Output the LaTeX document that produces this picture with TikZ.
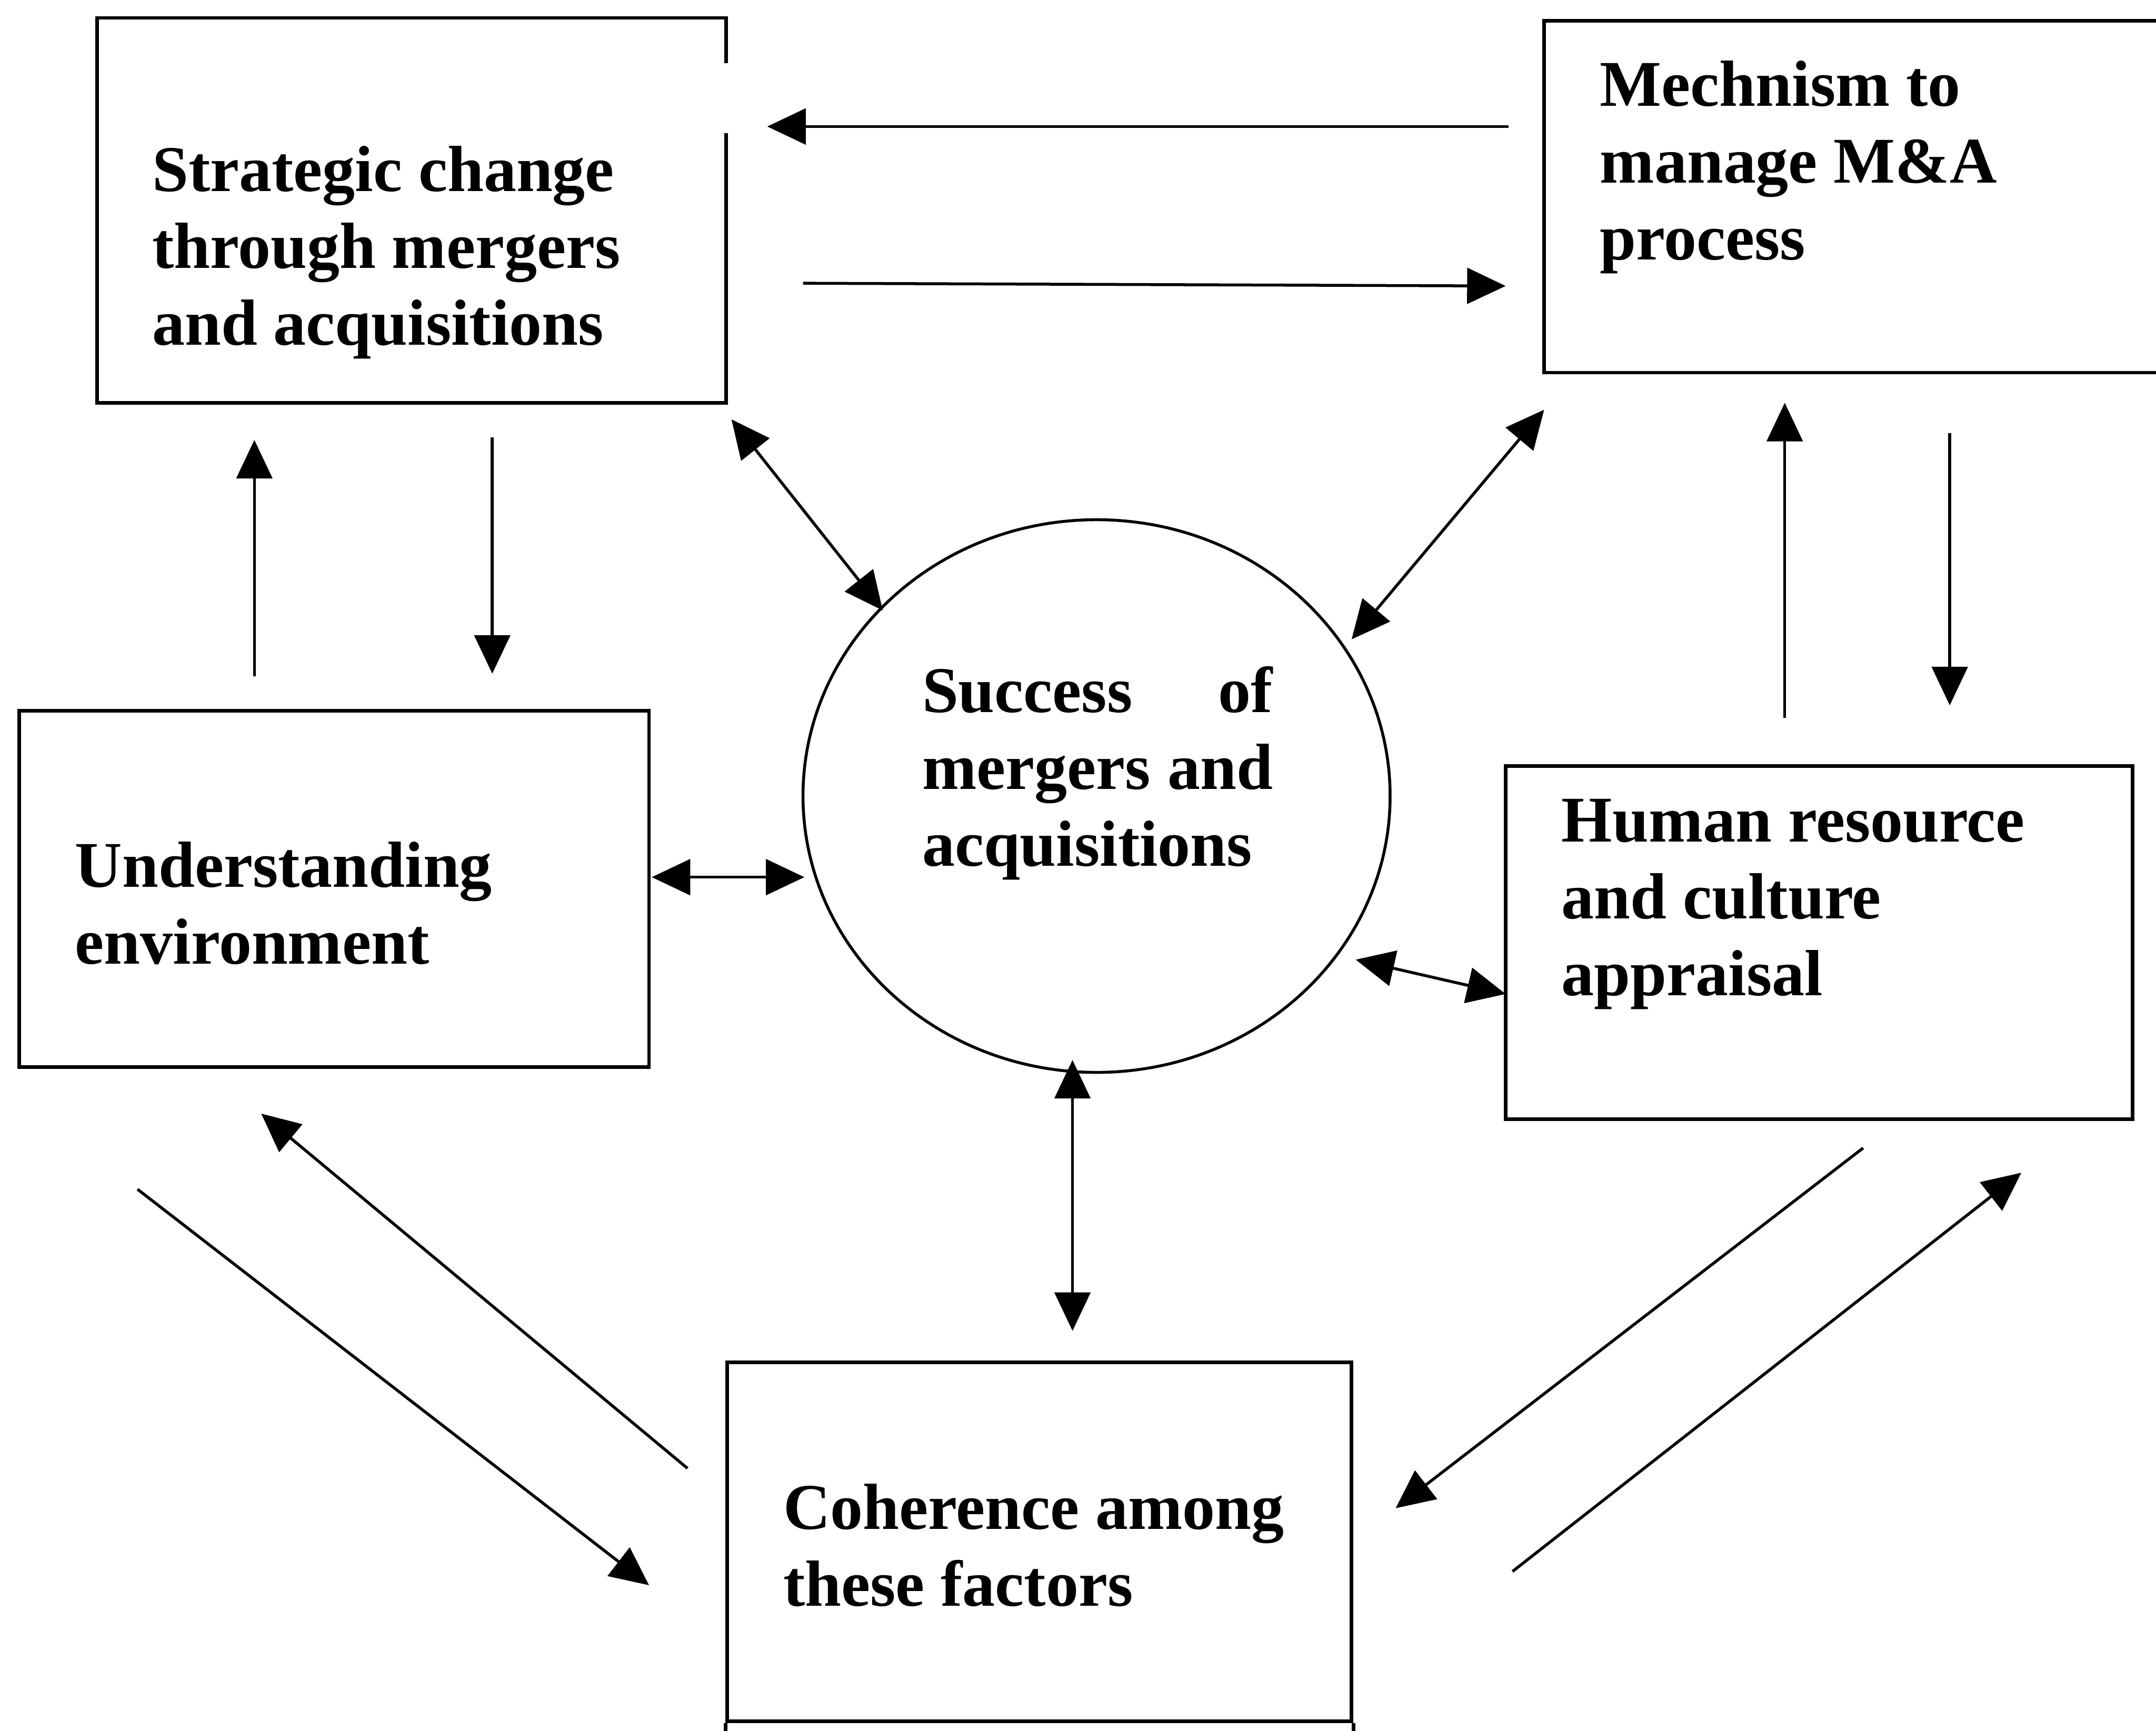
\documentclass[tikz,border=0pt]{standalone}
\usepackage{fontspec}
\setmainfont{Liberation Serif}
\usetikzlibrary{arrows.meta,shapes.geometric,fit}
\begin{document}
\begin{tikzpicture}[x=0.1mm,y=-0.1mm,
  box/.style={draw, line width=0.75pt, inner sep=0pt},
  lbl/.style={anchor=base west, align=left, inner sep=0pt,
    font=\fontsize{13.5pt}{15.9pt}\selectfont\bfseries},
  onehead/.style={-{Triangle[length=2.8mm,width=2.6mm]}, line width=0.6pt},
  twohead/.style={{Triangle[length=2.8mm,width=2.6mm]}-{Triangle[length=2.8mm,width=2.6mm]}, line width=0.6pt}]
\useasboundingbox (0,0) rectangle (1568,1259);
\clip (0,0) rectangle (1568,1259);

% boxes
\node[box, fit={(70.5,13) (528,293)}] (strat) {};
\node[box, fit={(1123,15) (1640,271)}] (mech) {};
\node[box, fit={(14,517) (472,776)}] (env) {};
\node[box, fit={(1095,557) (1551,814)}] (hr) {};
\node[box, fit={(529,991) (983,1252)}] (coh) {};
\draw[line width=0.75pt] (coh.south west) -- ++(0,40);
\draw[line width=0.75pt] (coh.south east) -- ++(0,40);
\draw[white, line width=2pt] (528,46) -- (528,97);
\node[draw, ellipse, line width=0.6pt, inner sep=0pt,
      minimum width=42.7mm, minimum height=40.2mm] (succ) at (797.5,579) {};

% texts (anchored at the baseline of their last line)
\node[lbl] (tstrat) at (110,251) {Strategic change\\through mergers\\and acquisitions};
\node[lbl] (tmech) at (1163,189) {Mechnism to\\manage M\&A\\process};
\node[lbl] (tenv) at (54,701) {Understanding\\environment};
\node[lbl] (thr) at (1135,724) {Human resource\\and culture\\appraisal};
\node[lbl] (tcoh) at (569,1168) {Coherence among\\these factors};
\node[lbl] (tsucc) at (670,630) {\makebox[25.5mm][s]{Success of}\\\makebox[25.5mm][s]{mergers and}\\acquisitions};

% connector end points
\coordinate (a1s) at (1097,92);  \coordinate (a1e) at (558,92);
\coordinate (a2s) at (584,206);  \coordinate (a2e) at (1095,208);
\coordinate (a3s) at (185,492);  \coordinate (a3e) at (185,320);
\coordinate (a4s) at (358,318);  \coordinate (a4e) at (358,490);
\coordinate (a5s) at (532,305);  \coordinate (a5e) at (642,444);
\coordinate (a6s) at (1123,298); \coordinate (a6e) at (983,465);
\coordinate (a7s) at (474,638);  \coordinate (a7e) at (585,638);
\coordinate (a8s) at (986,698);  \coordinate (a8e) at (1095,723);
\coordinate (a9s) at (780,771);  \coordinate (a9e) at (780,968);
\coordinate (a10s) at (1298,522); \coordinate (a10e) at (1298,293);
\coordinate (a11s) at (1418,315); \coordinate (a11e) at (1418,513);
\coordinate (a12s) at (500,1068); \coordinate (a12e) at (190,810);
\coordinate (a13s) at (100,865);  \coordinate (a13e) at (472,1153);
\coordinate (a14s) at (1355,835); \coordinate (a14e) at (1015,1097);
\coordinate (a15s) at (1100,1143); \coordinate (a15e) at (1470,853);

% connectors
\draw[onehead] (a1s) -- (a1e);
\draw[onehead] (a2s) -- (a2e);
\draw[onehead] (a3s) -- (a3e);
\draw[onehead] (a4s) -- (a4e);
\draw[twohead] (a5s) -- (a5e);
\draw[twohead] (a6s) -- (a6e);
\draw[twohead] (a7s) -- (a7e);
\draw[twohead] (a8s) -- (a8e);
\draw[twohead] (a9s) -- (a9e);
\draw[onehead] (a10s) -- (a10e);
\draw[onehead] (a11s) -- (a11e);
\draw[onehead] (a12s) -- (a12e);
\draw[onehead] (a13s) -- (a13e);
\draw[onehead] (a14s) -- (a14e);
\draw[onehead] (a15s) -- (a15e);
\end{tikzpicture}
\end{document}
